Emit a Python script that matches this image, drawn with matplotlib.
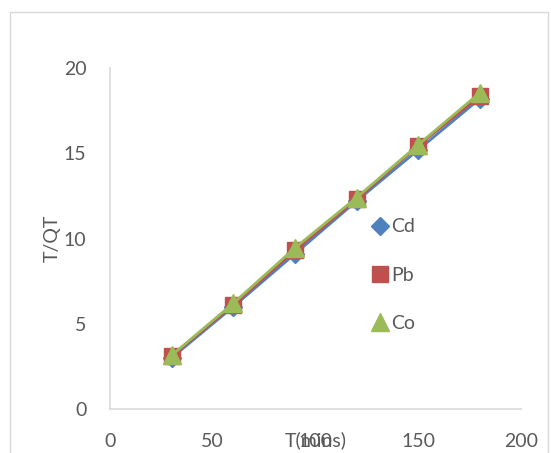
import matplotlib
matplotlib.use("Agg")
import matplotlib.pyplot as plt
from matplotlib.patches import Rectangle

plt.rcParams['font.family'] = ['Lato', 'DejaVu Sans']

# data
t = [30, 60, 90, 120, 150, 180]
cd = [3.0, 6.0, 9.1, 12.2, 15.2, 18.2]
pb = [3.1, 6.1, 9.3, 12.3, 15.45, 18.35]
co = [3.15, 6.2, 9.45, 12.4, 15.5, 18.55]
xticks = [0, 50, 100, 150, 200]
yticks = [0, 5, 10, 15, 20]

fig = plt.figure(figsize=(5.51, 4.53), dpi=100)
ax = fig.add_axes([110 / 551, 44 / 453, 411 / 551, 341 / 453])

# outer chart border
fig.patches.append(Rectangle((10 / 551, -0.05), 538 / 551, (453 - 12) / 453 + 0.05,
                             transform=fig.transFigure, fill=False,
                             edgecolor='#d9d9d9', linewidth=1))

ax.plot(t, cd, color='#4F81BD', lw=2, marker='D', markersize=9, label='Cd')
ax.plot(t, pb, color='#C0504D', lw=2, marker='s', markersize=11.5, label='Pb')
ax.plot(t, co, color='#9BBB59', lw=2, marker='^', markersize=12.5, label='Co')

ax.set_xlim(0, 200)
ax.set_ylim(0, 20)
ax.set_xticks(xticks)
ax.set_yticks(yticks)
ax.tick_params(axis='x', length=0, labelsize=14, colors='#595959', pad=17)
ax.tick_params(axis='y', length=0, labelsize=14, colors='#595959', pad=17)
for s in ['top', 'right']:
    ax.spines[s].set_visible(False)
for s in ['left', 'bottom']:
    ax.spines[s].set_color('#d9d9d9')
    ax.spines[s].set_linewidth(1.2)

ax.set_ylabel('T/QT', fontsize=14, color='#595959', labelpad=2)
ax.set_xlabel('T(mins)', fontsize=14, color='#595959', va='baseline')
ax.xaxis.set_label_coords(0.5, -0.108)

handles, labels = ax.get_legend_handles_labels()
leg = ax.legend(handles, labels, loc='upper left', bbox_to_anchor=(0.6, 0.61),
                frameon=False, fontsize=14, handlelength=0.6, handletextpad=0.3,
                labelspacing=1.6, labelcolor='#595959')
for h in leg.legend_handles:
    h.set_linestyle('none')

fig.savefig('out.png', dpi=100)
